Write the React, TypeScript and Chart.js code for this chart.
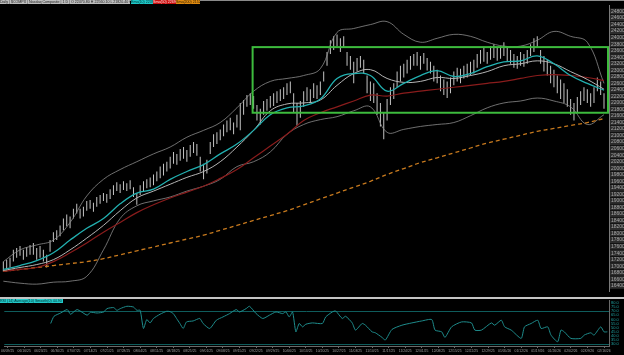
import React, { useEffect, useRef } from "react";
import { Chart, registerables } from "chart.js";
Chart.register(...registerables);

// ---------- DATA ----------
const dateLabels = [
  "06/09/25", "06/16/25", "06/23/25", "06/30/25", "07/07/25", "07/14/25", "07/21/25", "07/28/25",
  "08/04/25", "08/11/25", "08/18/25", "08/25/25", "09/01/25", "09/08/25", "09/15/25", "09/22/25",
  "09/29/25", "10/06/25", "10/13/25", "10/20/25", "10/27/25", "11/03/25", "11/10/25", "11/17/25",
  "11/24/25", "12/01/25", "12/08/25", "12/15/25", "12/22/25", "12/29/25", "01/05/26", "01/12/26",
  "01/19/26", "01/26/26", "02/02/26", "02/09/26", "02/16/26",
];
const barsPerLabel = 5;

const barHigh = [
  17140, 17200, 17260, 17500, 17560, 17620, 17500, 17590, 17650, 17710,
  17560, 17620, 17500, 17350, 17800, 18040, 18100, 18250, 18460, 18580,
  18520, 18760, 18910, 18760, 18820, 19000, 19030, 18940, 19120, 19180,
  19240, 19210, 19360, 19480, 19570, 19510, 19600, 19540, 19630, 19420,
  19240, 19480, 19600, 19660, 19720, 19810, 19900, 20050, 20140, 20200,
  20350, 20500, 20440, 20590, 20650, 20560, 20710, 20800, 20740, 20350,
  20140, 20260, 20800, 21040, 21100, 21190, 21340, 21460, 21550, 21400,
  21640, 22000, 22090, 22240, 22300, 22210, 21940, 21820, 22060, 22120,
  22210, 22300, 22360, 22420, 22480, 22600, 22660, 22300, 22000, 22060,
  22360, 22480, 22420, 22600, 22540, 22660, 22960, 23560, 23920, 24040,
  24100, 23980, 24040, 23560, 23440, 23260, 23380, 23440, 23320, 22840,
  22660, 22600, 22300, 22000, 21700, 22120, 22480, 22600, 22960, 23140,
  23200, 23320, 23440, 23500, 23560, 23440, 23530, 23380, 23260, 23140,
  23020, 22840, 22720, 22660, 22780, 22960, 23080, 23050, 23140, 23200,
  23260, 23320, 23500, 23620, 23680, 23560, 23740, 23800, 23680, 23740,
  23860, 23680, 23620, 23500, 23440, 23560, 23500, 23620, 23800, 23980,
  24040, 23620, 23440, 23320, 23140, 23020, 22840, 22720, 22600, 22420,
  22120, 22000, 22180, 22360, 22480, 22420, 22300, 22480, 22780, 22660,
  22300,
];
const barLow = [
  16840, 16900, 16960, 17140, 17260, 17320, 17200, 17290, 17350, 17350,
  17200, 17260, 17140, 16960, 17440, 17740, 17800, 17920, 18100, 18220,
  18160, 18460, 18610, 18460, 18520, 18700, 18760, 18670, 18820, 18910,
  19000, 18940, 19060, 19180, 19300, 19240, 19330, 19300, 19360, 19120,
  18880, 19180, 19300, 19390, 19420, 19480, 19600, 19690, 19780, 19900,
  19990, 20140, 20110, 20230, 20290, 20200, 20350, 20470, 20380, 19900,
  19660, 19840, 20440, 20650, 20740, 20860, 20980, 21100, 21160, 21040,
  21250, 21160, 21640, 21880, 21940, 21820, 21460, 21340, 21640, 21760,
  21850, 21910, 22000, 22060, 22120, 22240, 22300, 21700, 21310, 21550,
  21880, 22060, 22000, 22150, 22120, 22240, 22660, 23140, 23500, 23620,
  23740, 23560, 23680, 23140, 23020, 22600, 22960, 23080, 22900, 22300,
  22060, 22000, 21640, 21280, 20890, 21460, 21940, 22120, 22480, 22660,
  22780, 22900, 23020, 23140, 23140, 23020, 23200, 22990, 22900, 22660,
  22600, 22360, 22240, 22150, 22300, 22540, 22660, 22600, 22750, 22780,
  22840, 22900, 23080, 23200, 23260, 23200, 23320, 23380, 23290, 23350,
  23440, 23260, 23200, 23080, 23050, 23140, 23110, 23200, 23440, 23560,
  23680, 23200, 22960, 22840, 22600, 22480, 22300, 22120, 22000, 21880,
  21640, 21460, 21700, 21940, 22060, 22000, 21880, 22000, 22360, 22240,
  21820,
];

// indicator lines, one value every `lineStep` bars
const lineStep = 5;
const emaFast = [
  16900, 17020, 17170, 17410, 17800, 18160, 18460, 18910, 19240, 19360,
  19660, 19900, 20110, 20440, 20740, 21160, 21640, 21850, 21910, 22120,
  22750, 22900, 22840, 22360, 22600, 22840, 22990, 22810, 22900, 23110,
  23260, 23290, 23440, 23200, 22840, 22600, 22390,
];
const smaMid = [
  16870, 16960, 17050, 17200, 17500, 17860, 18250, 18700, 19090, 19300,
  19510, 19720, 19900, 20200, 20650, 21160, 21760, 21970, 22000, 22090,
  22540, 22900, 23020, 22750, 22630, 22660, 22780, 22750, 22840, 22960,
  23140, 23200, 23290, 23200, 22960, 22720, 22420,
];
const sma50 = [
  16840, 16900, 16960, 17140, 17410, 17710, 18040, 18340, 18640, 18880,
  19090, 19270, 19450, 19690, 19960, 20320, 20680, 21040, 21460, 21700,
  21880, 22060, 22240, 22210, 22300, 22360, 22420, 22480, 22540, 22600,
  22660, 22750, 22840, 22870, 22840, 22780, 22690,
];
const sma200 = [
  16840, 16900, 16960, 17020, 17080, 17140, 17230, 17350, 17470, 17590,
  17710, 17830, 17950, 18100, 18250, 18400, 18550, 18700, 18880, 19060,
  19240, 19420, 19600, 19810, 19990, 20170, 20320, 20470, 20620, 20770,
  20890, 21010, 21130, 21220, 21310, 21400, 21520,
];
const bbUpper = [
  17140, 17500, 17650, 17800, 18340, 19150, 19660, 19960, 20200, 20440,
  20650, 20950, 21160, 21400, 21850, 22360, 22660, 22750, 22840, 23050,
  24160, 24280, 24400, 24490, 24100, 23860, 23980, 24100, 24040, 23860,
  23740, 23740, 23920, 24190, 24040, 23860, 22600,
];
const bbLower = [
  16540, 16480, 16450, 16510, 16540, 16690, 17500, 18460, 18850, 19000,
  19120, 19300, 19450, 19660, 20050, 20200, 20500, 21040, 21340, 21490,
  21580, 21760, 21880, 21100, 21190, 21280, 21340, 21400, 21610, 21850,
  22000, 22060, 22150, 22060, 21880, 21340, 21640,
];

// consolidation box (bar index / price)
const boxStartBar = 74.7;
const boxEndBar = 181.5;
const boxTop = 23710;
const boxBottom = 21700;

// oscillator (lower panel)
const oscBars = [
  13, 14, 16, 18, 19, 21, 24, 25, 27, 29, 30, 32, 33, 34, 36, 38, 39, 40, 41, 42,
  43, 44, 46, 48, 49, 50, 51, 52, 53, 54, 56, 58, 59, 61, 63, 65, 67, 69, 70, 72,
  73, 75, 77, 79, 81, 83, 84, 85, 86, 87, 88, 89, 90, 92, 95, 96, 98, 99, 101, 102,
  104, 105, 107, 108, 110, 111, 113, 114, 116, 119, 122, 125, 128, 129, 131, 132, 134, 137, 140, 141,
  143, 146, 147, 149, 150, 152, 155, 156, 158, 160, 161, 163, 164, 166, 167, 168, 170, 173, 174, 176,
  177, 179, 180, 181,
];
const oscValues = [
  55.1, 63.9, 67.9, 72.1, 66.4, 72.1, 65.2, 68.8, 67.9, 69.2, 73.3, 74.5, 71.2, 73.3, 76.1, 75.2, 71.2, 71.2, 49.0, 59.9,
  55.8, 61.2, 66.4, 70.0, 69.6, 67.2, 61.2, 55.1, 49.0, 57.0, 58.2, 61.2, 55.1, 49.0, 59.1, 63.1, 67.2, 72.1, 69.2, 73.3,
  76.1, 67.2, 61.2, 65.2, 69.2, 67.2, 69.2, 63.1, 69.2, 44.9, 55.1, 51.0, 54.2, 55.8, 55.1, 63.1, 69.2, 70.4, 61.2, 63.9,
  55.8, 47.0, 55.1, 53.0, 44.9, 43.7, 38.1, 34.9, 47.8, 53.0, 55.8, 58.2, 59.9, 47.0, 44.9, 38.1, 51.0, 57.0, 55.8, 47.0,
  47.0, 55.8, 53.0, 59.1, 51.0, 47.0, 36.9, 51.0, 55.1, 59.1, 49.0, 51.0, 40.9, 32.8, 47.0, 44.9, 36.9, 36.9, 40.9, 43.7,
  40.9, 51.0, 44.9, 44.9,
];
const oscUpper = 70;
const oscLower = 30;

// axis ranges and tick labels
const xMin = -1;
const xMax = 181.5;
const priceMin = 16240;
const priceMax = 25000;
const priceTickFrom = 16400;
const priceTickTo = 24800;
const priceTickStep = 200;
const oscMin = 27.6;
const oscMax = 83.3;
const oscTickFrom = 30;
const oscTickTo = 80;
const oscTickStep = 5;

const headerText = "Daily | $COMPX | Nasdaq Composite | 1 D | O 22470.80 H 22560.10 L 21820.40 C 22300.60";
const emaText = "Ema(10) 22390.4";
const smaText = "Sma(50) 22690.2";
const sma200Text = "Sma(200) 21520.8";
const oscText = "RSI (14) Average(10) Smooth(0) 44.90";

// ---------- COMPONENT ----------
const FONT = "'Liberation Sans', 'DejaVu Sans', sans-serif";

function rangeTicks(from: number, to: number, step: number) {
  const out: { value: number }[] = [];
  for (let v = from; v <= to + 1e-9; v += step) out.push({ value: v });
  return out;
}

export default function App() {
  const mainRef = useRef<HTMLCanvasElement | null>(null);
  const oscRef = useRef<HTMLCanvasElement | null>(null);

  useEffect(() => {
    const lineData = (arr: number[]) => arr.map((v, k) => ({ x: k * lineStep, y: v }));

    const boxPlugin = {
      id: "consolidationBox",
      afterDatasetsDraw(chart: any) {
        const { ctx, scales } = chart;
        const l = scales.x.getPixelForValue(boxStartBar);
        const r = scales.x.getPixelForValue(boxEndBar);
        const t = scales.y.getPixelForValue(boxTop);
        const b = scales.y.getPixelForValue(boxBottom);
        ctx.save();
        ctx.strokeStyle = "#3dbb3d";
        ctx.lineWidth = 2;
        ctx.strokeRect(l, t, r - l - 1, b - t);
        ctx.restore();
      },
    };

    const main = new Chart(mainRef.current as HTMLCanvasElement, {
      type: "bar",
      data: {
        datasets: [
          {
            type: "line",
            data: lineData(emaFast),
            borderColor: "#22b0b0",
            borderWidth: 1.3,
            pointRadius: 0,
            tension: 0.4,
            order: 1,
          },
          {
            type: "line",
            data: lineData(smaMid),
            borderColor: "#b5b5b5",
            borderWidth: 1,
            pointRadius: 0,
            tension: 0.4,
            order: 2,
          },
          {
            type: "line",
            data: lineData(sma50),
            borderColor: "#8a1c1c",
            borderWidth: 1.2,
            pointRadius: 0,
            tension: 0.4,
            order: 3,
          },
          {
            type: "line",
            data: lineData(sma200),
            borderColor: "#c87a1e",
            borderWidth: 1.3,
            borderDash: [4, 3],
            pointRadius: 0,
            tension: 0.4,
            order: 4,
          },
          {
            type: "line",
            data: lineData(bbUpper),
            borderColor: "#8c8c8c",
            borderWidth: 0.8,
            pointRadius: 0,
            tension: 0.4,
            order: 5,
          },
          {
            type: "line",
            data: lineData(bbLower),
            borderColor: "#8c8c8c",
            borderWidth: 0.8,
            pointRadius: 0,
            tension: 0.4,
            order: 6,
          },
          {
            type: "bar",
            data: barHigh.map((h, i) => ({ x: i, y: [barLow[i], h] })),
            backgroundColor: "#c4c4c4",
            barThickness: 1,
            inflateAmount: 0,
            grouped: false,
            order: 10,
          } as any,
        ],
      },
      options: {
        animation: false,
        responsive: false,
        maintainAspectRatio: false,
        layout: { padding: { left: 0, right: 0, top: 0, bottom: 4 } },
        plugins: { legend: { display: false }, tooltip: { enabled: false } },
        scales: {
          x: { type: "linear", min: xMin, max: xMax, offset: false, display: false },
          y: {
            type: "linear",
            position: "right",
            min: priceMin,
            max: priceMax,
            afterBuildTicks: (s: any) => {
              s.ticks = rangeTicks(priceTickFrom, priceTickTo, priceTickStep);
            },
            afterFit: (s: any) => {
              s.width = 15;
            },
            grid: { display: false, drawTicks: false },
            border: { display: true, color: "#7a7a7a" },
            ticks: {
              autoSkip: false,
              font: { size: 5, family: FONT },
              color: "#a8a8a8",
              padding: 2,
              showLabelBackdrop: true,
              backdropColor: "#2c2c2c",
              backdropPadding: { top: 0, bottom: 0, left: 1, right: 1 },
              callback: (v: any) => Number(v).toFixed(2),
            } as any,
          },
        },
      } as any,
      plugins: [boxPlugin],
    });

    const levelsPlugin = {
      id: "oscLevels",
      beforeDatasetsDraw(chart: any) {
        const { ctx, chartArea, scales } = chart;
        ctx.save();
        ctx.strokeStyle = "#0f5c5c";
        ctx.lineWidth = 1;
        [oscUpper, oscLower].forEach((lv) => {
          const y = Math.round(scales.y.getPixelForValue(lv)) + 0.5;
          ctx.beginPath();
          ctx.moveTo(chartArea.left, y);
          ctx.lineTo(chartArea.right, y);
          ctx.stroke();
        });
        ctx.restore();
      },
    };

    const osc = new Chart(oscRef.current as HTMLCanvasElement, {
      type: "line",
      data: {
        datasets: [
          {
            data: oscBars.map((b, k) => ({ x: b, y: oscValues[k] })),
            borderColor: "#1e8c8c",
            borderWidth: 1,
            pointRadius: 0,
            tension: 0.2,
          },
        ],
      },
      options: {
        animation: false,
        responsive: false,
        maintainAspectRatio: false,
        layout: { padding: { left: 0, right: 0, top: 4, bottom: 0 } },
        plugins: { legend: { display: false }, tooltip: { enabled: false } },
        scales: {
          x: {
            type: "linear",
            min: xMin,
            max: xMax,
            offset: false,
            position: "bottom",
            afterBuildTicks: (s: any) => {
              s.ticks = dateLabels.map((_, k) => ({ value: k * barsPerLabel }));
            },
            afterFit: (s: any) => {
              s.height = 9;
            },
            grid: { drawOnChartArea: false, drawTicks: true, tickLength: 2, color: "#6a6a6a" },
            border: { display: true, color: "#6a6a6a" },
            ticks: {
              autoSkip: false,
              maxRotation: 0,
              minRotation: 0,
              font: { size: 3.4, family: FONT },
              color: "#a0a0a0",
              padding: 1,
              callback: (v: any) => dateLabels[Math.round(Number(v) / barsPerLabel)],
            },
          },
          y: {
            type: "linear",
            position: "right",
            min: oscMin,
            max: oscMax,
            afterBuildTicks: (s: any) => {
              s.ticks = rangeTicks(oscTickFrom, oscTickTo, oscTickStep);
            },
            afterFit: (s: any) => {
              s.width = 15;
            },
            grid: { display: false, drawTicks: false },
            border: { display: true, color: "#6a6a6a" },
            ticks: {
              autoSkip: false,
              font: { size: 4, family: FONT },
              color: "#1fa0a0",
              padding: 2,
              callback: (v: any) => Number(v).toFixed(1),
            },
          },
        },
      } as any,
      plugins: [levelsPlugin],
    });

    return () => {
      main.destroy();
      osc.destroy();
    };
  }, []);

  const tag = (left: number, width: number, bg: string, color: string, top = 0): React.CSSProperties => ({
    position: "absolute",
    left,
    top,
    width,
    height: 4,
    background: bg,
    color,
    fontSize: 3.6,
    lineHeight: "4px",
    fontFamily: FONT,
    whiteSpace: "nowrap",
    overflow: "hidden",
  });

  return (
    <div
      style={{
        position: "fixed",
        left: 0,
        top: 0,
        width: 624,
        height: 355,
        background: "#000",
        overflow: "hidden",
      }}
    >
      <canvas ref={mainRef} width={624} height={296} style={{ position: "absolute", left: 0, top: 0, width: 624, height: 296 }} />
      <canvas ref={oscRef} width={624} height={59} style={{ position: "absolute", left: 0, top: 296, width: 624, height: 59 }} />
      <div style={{ position: "absolute", left: 0, top: 0, width: 624, height: 1, background: "#8a8a8a" }} />
      <div style={tag(0, 130, "#bdbdbd", "#202020")}>{headerText}</div>
      <div style={tag(131, 22, "#1ec8c8", "#003030")}>{emaText}</div>
      <div style={tag(153, 23, "#cc1010", "#ffdddd")}>{smaText}</div>
      <div style={tag(176, 24, "#e08a10", "#302000")}>{sma200Text}</div>
      <div style={{ position: "absolute", left: 0, top: 297, width: 624, height: 2, background: "#c4c4c4" }} />
      <div style={tag(0, 63, "#22c8c8", "#003333", 299)}>{oscText}</div>
    </div>
  );
}
